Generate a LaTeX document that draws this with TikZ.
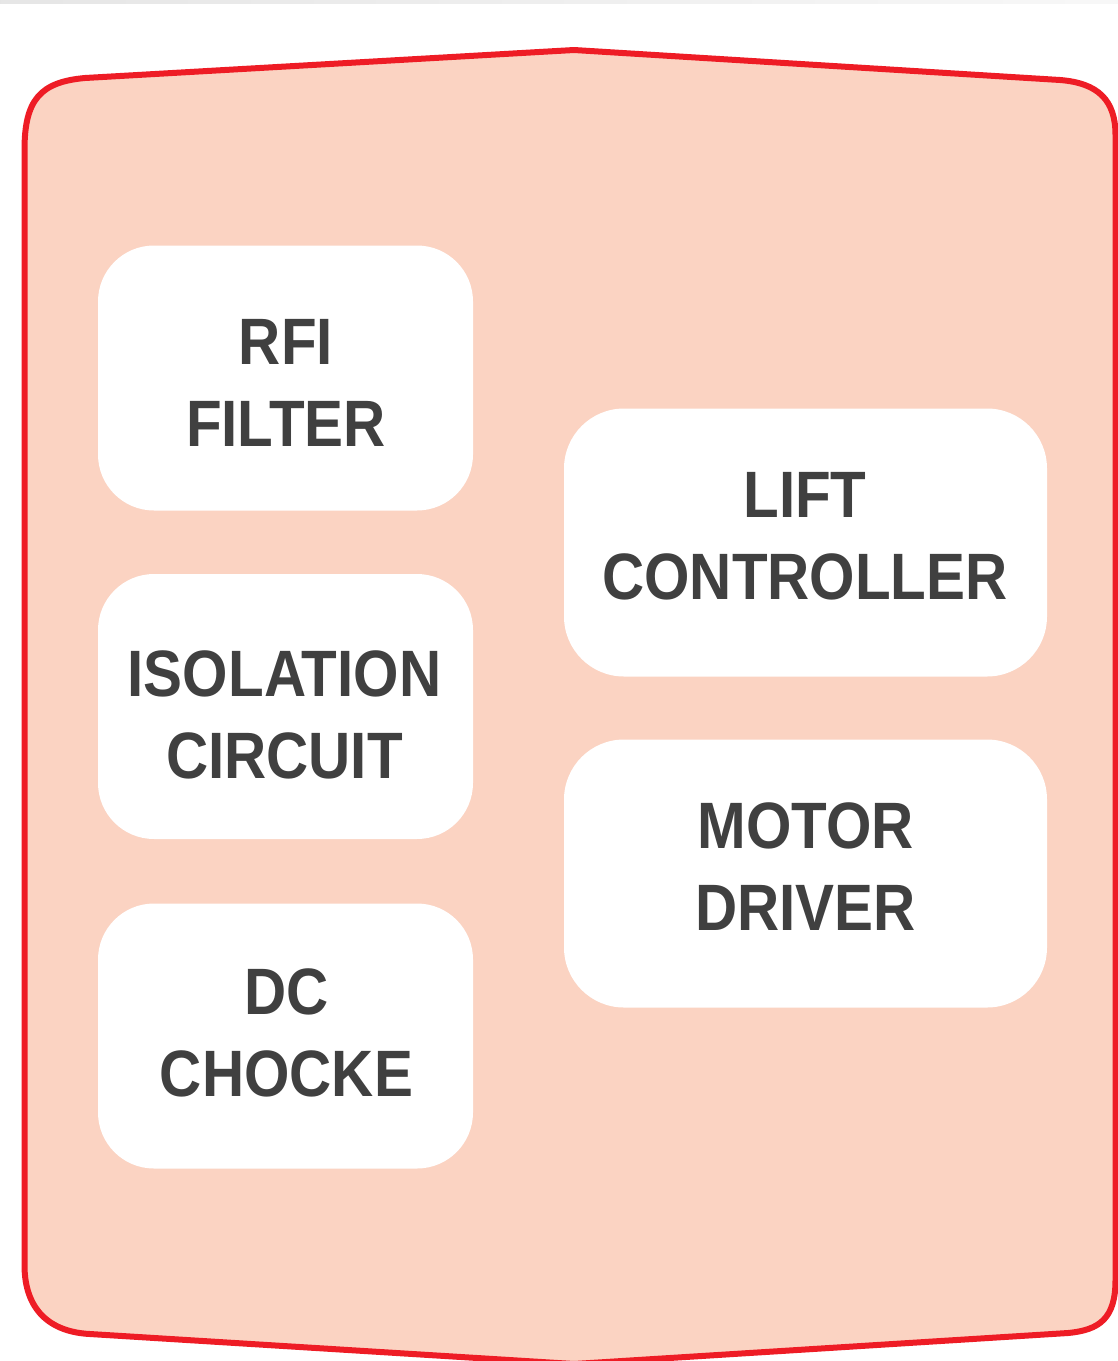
\documentclass[tikz,border=0pt]{standalone}
\usepackage{fontspec}
\newfontfamily\lblfont[FakeStretch=0.89]{Liberation Sans}
\definecolor{fillc}{RGB}{251,211,194}
\definecolor{redc}{RGB}{238,28,37}
\definecolor{txtc}{RGB}{64,64,64}
\begin{document}
\begin{tikzpicture}[x=0.5pt,y=-0.5pt,
  box/.style={fill=white, rounded corners=28pt, inner sep=0pt, minimum width=187.5pt, minimum height=132.5pt},
  wbox/.style={box, minimum width=241.5pt, minimum height=134pt, rounded corners=30pt},
  lbl/.style={text=txtc, font=\lblfont\bfseries\fontsize{32.8pt}{41pt}\selectfont, align=center, inner sep=0pt}]
\useasboundingbox (0,0) rectangle (1118,1361);
\fill[white] (0,0) rectangle (1118,1361);
\shade[left color=black!10, right color=black!3] (0,0) rectangle (1118,3.5);
\draw[redc, fill=fillc, line width=3pt, line join=round]
  (24.5,1265) -- (24.5,150) .. controls (24.5,100) and (40,82) .. (85,78)
  -- (574,50) -- (1060,80) .. controls (1098,83) and (1115.5,100) .. (1115.5,135)
  -- (1115.5,1280) .. controls (1115.5,1318) and (1100,1330) .. (1068,1333)
  -- (574,1364) -- (90,1334) .. controls (50,1332) and (24.5,1310) .. (24.5,1265) -- cycle;
\node[box] (rfi) at (285.5,378) {};
\node[box] (iso) at (285.5,706.5) {};
\node[box] (dc) at (285.5,1036) {};
\node[wbox] (lift) at (805.5,542.5) {};
\node[wbox] (motor) at (805.5,873.5) {};
\node[lbl] (rfit) at (286,383) {RFI\\FILTER};
\node[lbl] (isot) at (284.5,714.5) {ISOLATION\\CIRCUIT};
\node[lbl] (dct) at (286.5,1032.5) {DC\\CHOCKE};
\node[lbl] (liftt) at (805,536.5) {LIFT\\CONTROLLER};
\node[lbl] (motort) at (805.5,866.5) {MOTOR\\DRIVER};
\end{tikzpicture}
\end{document}
